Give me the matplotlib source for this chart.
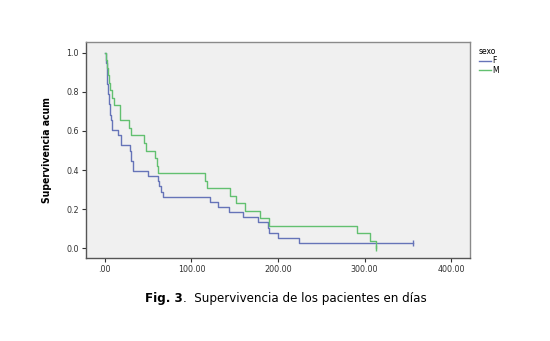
import matplotlib
matplotlib.use("Agg")
import matplotlib.pyplot as plt
from matplotlib.lines import Line2D
from matplotlib.transforms import offset_copy

# Kaplan-Meier steps (time in days, cumulative survival)
f_time = [0, 1, 2, 3, 4, 5, 6, 7, 8, 15, 19, 29, 30, 32, 50, 61, 63, 65, 67,
          121, 131, 143, 160, 177, 188, 189, 200, 224, 356]
f_surv = [1.0, 0.947, 0.895, 0.842, 0.789, 0.737, 0.684, 0.658, 0.605, 0.579,
          0.526, 0.500, 0.447, 0.395, 0.368, 0.342, 0.316, 0.289, 0.263,
          0.237, 0.211, 0.184, 0.158, 0.132, 0.105, 0.079, 0.053, 0.026, 0.026]

m_time = [0, 1, 2, 4, 5, 6, 8, 10, 17, 18, 28, 30, 45, 48, 58, 60, 61,
          116, 118, 145, 152, 162, 179, 190, 291, 306, 313]
m_surv = [1.0, 0.962, 0.923, 0.885, 0.846, 0.808, 0.769, 0.731, 0.692, 0.654,
          0.615, 0.577, 0.538, 0.500, 0.462, 0.423, 0.385, 0.346, 0.308,
          0.269, 0.231, 0.192, 0.154, 0.115, 0.077, 0.038, 0.0]

x_ticks = [0, 100, 200, 300, 400]
x_labels = [".00", "100.00", "200.00", "300.00", "400.00"]
y_ticks = [0.0, 0.2, 0.4, 0.6, 0.8, 1.0]

blue = "#6674b8"
green = "#62c070"

fig = plt.figure(figsize=(5.5, 3.41), dpi=100)
ax = fig.add_axes([0.156, 0.243, 0.699, 0.634])
ax.set_facecolor("#f0f0f0")

ax.step(f_time, f_surv, where="post", color=blue, lw=1.0)
ax.step(m_time, m_surv, where="post", color=green, lw=1.0)
# censored cases at the end of each curve
ax.plot([f_time[-1]], [f_surv[-1]], marker="|", color=blue, ms=5, mew=1)
ax.plot([m_time[-1]], [m_surv[-1]], marker="|", color=green, ms=5, mew=1)

ax.set_xlim(-22, 422)
ax.set_ylim(-0.051, 1.056)
ax.set_xticks(x_ticks)
ax.set_xticklabels(x_labels)
ax.set_yticks(y_ticks)
ax.set_yticklabels([f"{v:.1f}" for v in y_ticks])
ax.tick_params(labelsize=5.8, length=3, width=0.8, color="#333333",
               labelcolor="#333333", pad=2)
for s in ax.spines.values():
    s.set_color("#8a8a8a")
    s.set_linewidth(1.0)
ax.spines["left"].set_color("#555555")
ax.spines["bottom"].set_color("#555555")

ax.set_ylabel("Supervivencia acum", fontsize=7.5, fontweight="bold",
              fontstretch="condensed",
              family=["Liberation Sans Narrow", "DejaVu Sans"], labelpad=10)

handles = [Line2D([], [], color=blue, lw=1), Line2D([], [], color=green, lw=1)]
leg = ax.legend(handles, ["F", "M"], title="sexo", loc="upper left",
                bbox_to_anchor=(1.01, 1.0), frameon=False, fontsize=5.5,
                title_fontsize=5.5, handlelength=1.6, handletextpad=0.2,
                labelspacing=0.1, borderaxespad=0.2)
leg._legend_box.align = "left"

# caption: bold "Fig. 3" followed by the plain text
t1 = fig.text(0.264, 0.125, "Fig. 3", fontsize=8.6, fontweight="bold",
              va="center")
fig.canvas.draw()
w = t1.get_window_extent().width
fig.text(0.264, 0.125, ".  Supervivencia de los pacientes en días",
         fontsize=8.6, va="center",
         transform=offset_copy(fig.transFigure, fig=fig, x=w, units="dots"))

fig.savefig("out.png", dpi=100, facecolor="white")
